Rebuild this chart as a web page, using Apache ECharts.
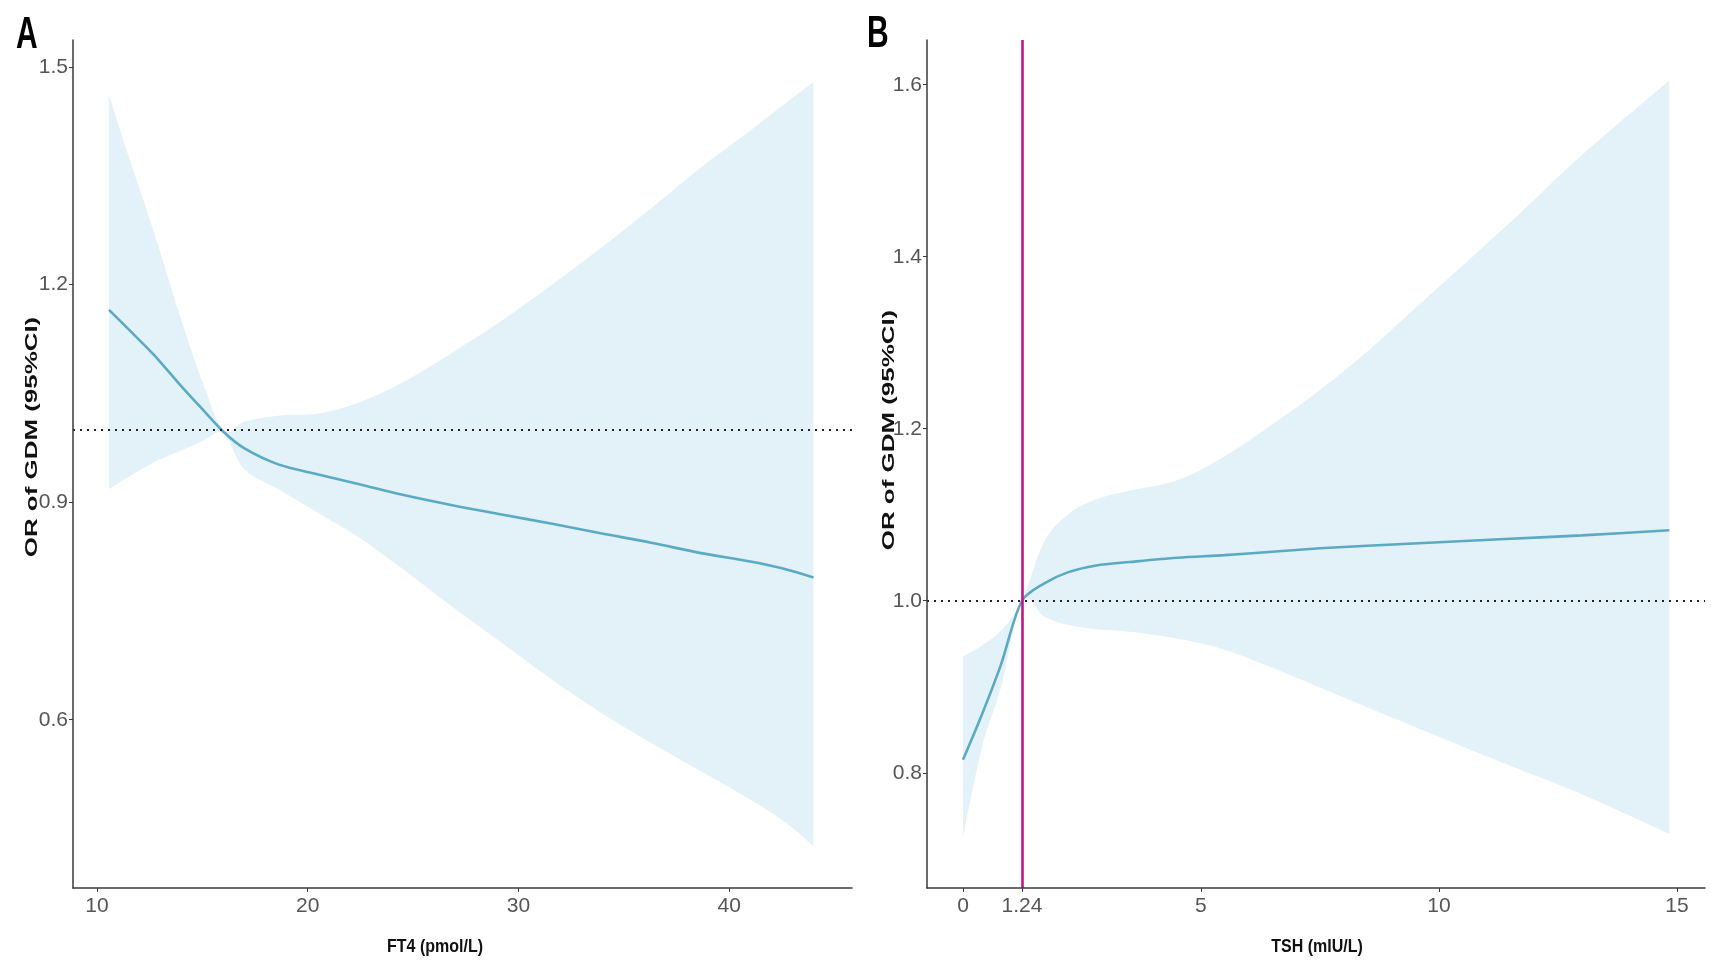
<!DOCTYPE html>
<html>
<head>
<meta charset="utf-8">
<style>
  html, body { margin: 0; padding: 0; background: #fff; }
  #chart { width: 1711px; height: 964px; }
</style>
<script src="https://cdn.jsdelivr.net/npm/echarts@6/dist/echarts.min.js"></script>
</head>
<body>
<div id="chart"></div>
<script>
// ---------------- Data ----------------
// Panel A: FT4 (pmol/L)
const ft4X     = [10.57, 11.5, 12.7, 13.9, 15.0, 16.0, 17.0, 18.6, 20.5, 22.4, 24.5, 26.8, 29.2, 31.6, 33.9, 36.3, 38.6, 41.0, 42.6, 44.0];
const ft4OR    = [1.165, 1.138, 1.103, 1.063, 1.028, 0.997, 0.974, 0.952, 0.938, 0.925, 0.910, 0.896, 0.883, 0.870, 0.857, 0.844, 0.830, 0.818, 0.808, 0.796];
const ft4Lower = [0.918, 0.935, 0.955, 0.970, 0.984, 0.995, 0.945, 0.918, 0.885, 0.852, 0.808, 0.757, 0.706, 0.655, 0.610, 0.568, 0.530, 0.490, 0.460, 0.426];
const ft4Upper = [1.461, 1.377, 1.272, 1.160, 1.066, 0.999, 1.011, 1.019, 1.022, 1.037, 1.065, 1.105, 1.150, 1.200, 1.250, 1.305, 1.360, 1.412, 1.448, 1.479];

// Panel B: TSH (mIU/L)
const tshX     = [0, 0.4, 0.8, 1.24, 1.7, 2.2, 2.8, 3.5, 4.5, 5.5, 6.5, 7.5, 8.5, 10, 11.5, 13, 14.84];
const tshOR    = [0.815, 0.868, 0.926, 1.000, 1.020, 1.033, 1.041, 1.045, 1.050, 1.053, 1.057, 1.061, 1.064, 1.068, 1.072, 1.076, 1.082];
const tshLower = [0.725, 0.830, 0.900, 1.000, 0.982, 0.972, 0.967, 0.964, 0.956, 0.943, 0.922, 0.899, 0.876, 0.842, 0.808, 0.775, 0.729];
const tshUpper = [0.935, 0.948, 0.965, 1.000, 1.068, 1.100, 1.118, 1.128, 1.140, 1.168, 1.205, 1.245, 1.290, 1.365, 1.440, 1.518, 1.605];

// Reference values and tick labels
const refOR  = 1;
const tshCut = 1.24;
const ft4XTicks = [10, 20, 30, 40];
const ft4YTicks = [0.6, 0.9, 1.2, 1.5];
const tshXTicks = [0, 1.24, 5, 10, 15];
const tshYTicks = [0.8, 1.0, 1.2, 1.4, 1.6];

const panelLabels = ['A', 'B'];
const xTitles = ['FT4 (pmol/L)', 'TSH (mIU/L)'];
const yTitle = 'OR of GDM (95%CI)';

// ---------------- Styles ----------------
const bandColor = '#e3f1f8';
const lineColor = '#5aaac4';
const cutColor  = '#c0168a';
const axisColor = '#3a3a3a';
const labelFont = '"Liberation Sans Narrow", "Liberation Sans", Arial, sans-serif';
const titleFont = '"Liberation Sans", Arial, sans-serif';

const zip = (xs, ys) => xs.map((x, i) => [x, ys[i]]);

function axisCommon(ticks, fmt, margin) {
  return {
    type: 'value',
    z: 5,
    splitLine: { show: false },
    axisLine: { show: true, onZero: false, lineStyle: { color: axisColor, width: 1.5 } },
    axisTick: { show: true, length: 4, customValues: ticks, lineStyle: { color: axisColor, width: 1 } },
    axisLabel: {
      customValues: ticks, formatter: fmt, margin: margin,
      color: '#555', fontSize: 21, fontFamily: labelFont
    }
  };
}

// smooth path segments through screen points (Catmull-Rom -> cubic Bezier)
function smoothSegs(pts) {
  let d = '';
  for (let i = 0; i < pts.length - 1; i++) {
    const p0 = pts[i - 1] || pts[i], p1 = pts[i], p2 = pts[i + 1], p3 = pts[i + 2] || pts[i + 1];
    const c1 = [p1[0] + (p2[0] - p0[0]) / 6, p1[1] + (p2[1] - p0[1]) / 6];
    const c2 = [p2[0] - (p3[0] - p1[0]) / 6, p2[1] - (p3[1] - p1[1]) / 6];
    d += ' C' + c1[0] + ',' + c1[1] + ' ' + c2[0] + ',' + c2[1] + ' ' + p2[0] + ',' + p2[1];
  }
  return d;
}

function bandSeries(idx, xs, lo, up) {
  return {
    type: 'custom', xAxisIndex: idx, yAxisIndex: idx, silent: true, z: 1, clip: true,
    data: [[xs[0], lo[0]]],
    encode: { x: 0, y: 1 },
    renderItem: function (params, api) {
      const upPts = xs.map((x, i) => api.coord([x, up[i]]));
      const loPts = xs.map((x, i) => api.coord([x, lo[i]])).reverse();
      const d = 'M' + upPts[0][0] + ',' + upPts[0][1] + smoothSegs(upPts) +
                ' L' + loPts[0][0] + ',' + loPts[0][1] + smoothSegs(loPts) + ' Z';
      return { type: 'path', shape: { pathData: d }, style: { fill: bandColor, stroke: null } };
    }
  };
}

const chart = echarts.init(document.getElementById('chart'), null, { renderer: 'canvas' });

const option = {
  animation: false,
  backgroundColor: '#ffffff',
  grid: [
    { left: 73, top: 40, width: 779, height: 848 },
    { left: 927, top: 40, width: 778, height: 848 }
  ],
  xAxis: [
    Object.assign(axisCommon(ft4XTicks, v => String(v), 8), { gridIndex: 0, min: 8.86, max: 45.83 }),
    Object.assign(axisCommon(tshXTicks, v => String(v), 8), { gridIndex: 1, min: -0.756, max: 15.59 })
  ],
  yAxis: [
    Object.assign(axisCommon(ft4YTicks, v => v.toFixed(1), 5), { gridIndex: 0, min: 0.368, max: 1.537 }),
    Object.assign(axisCommon(tshYTicks, v => v.toFixed(1), 5), { gridIndex: 1, min: 0.666, max: 1.652 })
  ],
  series: [
    bandSeries(0, ft4X, ft4Lower, ft4Upper),
    bandSeries(1, tshX, tshLower, tshUpper),
    {
      type: 'line', xAxisIndex: 0, yAxisIndex: 0,
      data: zip(ft4X, ft4OR), symbol: 'none', smooth: 0.3,
      lineStyle: { color: lineColor, width: 2.6 }, z: 3,
      markLine: {
        silent: true, symbol: 'none', label: { show: false },
        lineStyle: { color: '#222', type: [2, 5], width: 2 },
        data: [{ yAxis: refOR }]
      }
    },
    {
      type: 'line', xAxisIndex: 1, yAxisIndex: 1,
      data: zip(tshX, tshOR), symbol: 'none', smooth: 0.3,
      lineStyle: { color: lineColor, width: 2.6 }, z: 3,
      markLine: {
        silent: true, symbol: 'none', label: { show: false },
        data: [
          { yAxis: refOR, lineStyle: { color: '#222', type: [2, 5], width: 2 } },
          { xAxis: tshCut, lineStyle: { color: cutColor, type: 'solid', width: 2.6 } }
        ]
      }
    }
  ],
  graphic: [
    { type: 'text', x: 16, y: 14, scaleY: 1.45,
      style: { text: panelLabels[0], font: 'bold 30px ' + titleFont, fill: '#000', textAlign: 'left', textVerticalAlign: 'top' } },
    { type: 'text', x: 867, y: 13, scaleY: 1.45,
      style: { text: panelLabels[1], font: 'bold 30px ' + titleFont, fill: '#000', textAlign: 'left', textVerticalAlign: 'top' } },
    { type: 'text', x: 33, y: 437, rotation: Math.PI / 2, scaleX: 1.62,
      style: { text: yTitle, font: 'bold 16px ' + titleFont, fill: '#111', textAlign: 'center', textVerticalAlign: 'middle' } },
    { type: 'text', x: 890, y: 430, rotation: Math.PI / 2, scaleX: 1.62,
      style: { text: yTitle, font: 'bold 16px ' + titleFont, fill: '#111', textAlign: 'center', textVerticalAlign: 'middle' } },
    { type: 'text', x: 435, y: 947, scaleY: 1.2,
      style: { text: xTitles[0], font: 'bold 16px ' + titleFont, fill: '#111', textAlign: 'center', textVerticalAlign: 'middle' } },
    { type: 'text', x: 1317, y: 947, scaleY: 1.2,
      style: { text: xTitles[1], font: 'bold 16px ' + titleFont, fill: '#111', textAlign: 'center', textVerticalAlign: 'middle' } }
  ]
};

chart.setOption(option);
</script>
</body>
</html>
